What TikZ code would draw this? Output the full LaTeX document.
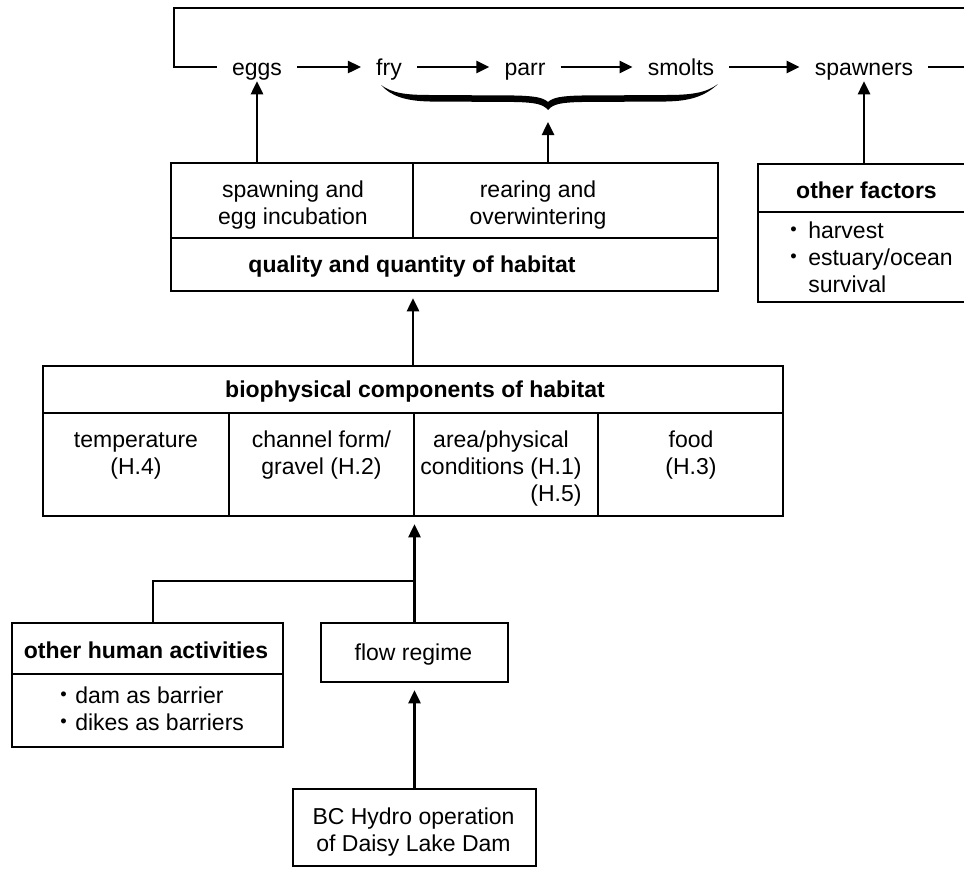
\documentclass[tikz,border=0pt]{standalone}
\usepackage{fontspec}
\setmainfont{Liberation Sans}
\usetikzlibrary{arrows.meta}

% small list bullet and stacked (first-line-baseline) text
\newcommand\blt{\raisebox{0.22ex}{\scalebox{0.8}{\textbullet}}}
\newcommand\stack[1]{\begin{tabular}[t]{@{}c@{}}#1\end{tabular}}

\begin{document}
\begin{tikzpicture}[
  x=1pt, y=-1pt,
  line width=2.5pt,
  font=\fontsize{23}{27}\selectfont,
  cell/.style={draw, line width=2.5pt, inner sep=0pt},
  txt/.style={inner sep=0pt, anchor=base},
  stage/.style={inner xsep=14pt, inner ysep=5pt, text height=16pt, text depth=0pt},
  arr/.style={-{Triangle[length=13pt,width=12pt]}, line width=2.5pt},
]
\useasboundingbox (0,0) rectangle (964,871);

% ---- life-history row ----
\node[stage] (eggs)     at (257,67) {eggs};
\node[stage] (fry)      at (389,67) {fry};
\node[stage] (parr)     at (525,67) {parr};
\node[stage] (smolts)   at (681,67) {smolts};
\node[stage] (spawners) at (864,67) {spawners};

\draw[arr] (eggs) -- (fry);
\draw[arr] (fry) -- (parr);
\draw[arr] (parr) -- (smolts);
\draw[arr] (smolts) -- (spawners);

% return loop from spawners back to eggs
\coordinate (ur) at (990,8);
\coordinate (ul) at (174,8);
\draw[line join=miter] (spawners.east) -| (ur) -- (ul) |- (eggs.west);

% brace under fry, parr and smolts
\fill (381,85) .. controls (391,96) and (405,101) .. (430,101.5) -- (515,102)
  .. controls (535,102.5) and (543,104) .. (548,110)
  .. controls (553,104) and (561,102.5) .. (581,102) -- (666,101.5)
  .. controls (691,101) and (705,96) .. (718,84)
  .. controls (706,93) and (691,95) .. (666,95) -- (581,95.5)
  .. controls (561,96) and (553,97.5) .. (548,102)
  .. controls (543,97.5) and (535,96) .. (515,95.5) -- (430,95)
  .. controls (405,95) and (392,93) .. cycle;
\coordinate (bt) at (548,122);

% ---- quality and quantity of habitat ----
\node[cell, minimum width=242pt, minimum height=75pt] (spawn)   at (292,200.5) {};
\node[cell, minimum width=305pt, minimum height=75pt] (rear)    at (565.5,200.5) {};
\node[cell, minimum width=547pt, minimum height=53pt] (quality) at (444.5,264.5) {};
\node[txt] (spawnT) at (293,197) {\stack{spawning and\\egg incubation}};
\node[txt] (rearT)  at (538,197) {\stack{rearing and\\overwintering}};
\node[txt] (qualT)  at (412,272) {\textbf{quality and quantity of habitat}};

\draw[arr] (spawn.north -| eggs) -- (eggs.south);
\draw[arr] (rear.north -| bt) -- (bt);

% ---- other factors ----
\node[cell, minimum width=217pt, minimum height=48pt] (oft) at (866.5,188) {};
\node[cell, minimum width=217pt, minimum height=90pt] (ofl) at (866.5,257) {};
\node[txt] (oftT) at (866.5,198) {\textbf{other factors}};
\node[txt, anchor=base west] (oflT) at (789,238)
  {\begin{tabular}[t]{@{}l@{}l@{}}\makebox[18pt][l]{\blt}&harvest\\
   \makebox[18pt][l]{\blt}&estuary/ocean\\ &survival\end{tabular}};
\draw[arr] (oft.north -| spawners) -- (spawners.south);

% ---- biophysical components of habitat ----
\node[cell, minimum width=740pt, minimum height=47pt] (biot) at (413,389.5) {};
\node[cell, minimum width=186pt, minimum height=103pt] (c1) at (136,464.5) {};
\node[cell, minimum width=185pt, minimum height=103pt] (c2) at (321.5,464.5) {};
\node[cell, minimum width=184pt, minimum height=103pt] (c3) at (506,464.5) {};
\node[cell, minimum width=185pt, minimum height=103pt] (c4) at (690.5,464.5) {};
\node[txt] (biotT) at (415,397) {\textbf{biophysical components of habitat}};
\node[txt] (c1T) at (136,447) {\stack{temperature\\(H.4)}};
\node[txt] (c2T) at (321.5,447) {\stack{channel form/\\gravel (H.2)}};
\node[txt] (c3T) at (501,447) {\stack{area/physical\\conditions (H.1)\\\hfill(H.5)}};
\node[txt] (c4T) at (691,447) {\stack{food\\(H.3)}};

\draw[arr, shorten >=6pt] (biot.north) -- (biot.north |- quality.south);

% ---- drivers ----
\node[cell, minimum width=271pt, minimum height=51pt] (ohat) at (147.5,648.5) {};
\node[cell, minimum width=271pt, minimum height=73pt] (ohal) at (147.5,710.5) {};
\node[txt] (ohatT) at (146,658) {\textbf{other human activities}};
\node[txt, anchor=base west] (ohalT) at (59,703)
  {\begin{tabular}[t]{@{}l@{}l@{}}\makebox[15pt][l]{\blt}&dam as barrier\\
   \makebox[15pt][l]{\blt}&dikes as barriers\end{tabular}};

\node[cell, minimum width=187pt, minimum height=59pt] (flow) at (414.5,652.5) {};
\node[txt] (flowT) at (413.5,660) {flow regime};

\node[cell, minimum width=243pt, minimum height=77pt] (bc) at (414.5,827.5) {};
\node[txt] (bcT) at (413.5,824) {\stack{BC Hydro operation\\of Daisy Lake Dam}};

\coordinate (j) at (414.5,581);
\draw[arr, shorten >=7pt] (flow.north) -- (flow.north |- c3.south);
\draw ([xshift=5.5pt]ohat.north) |- (j);
\draw[arr, shorten >=7pt] (bc) -- (flow);
\end{tikzpicture}
\end{document}
